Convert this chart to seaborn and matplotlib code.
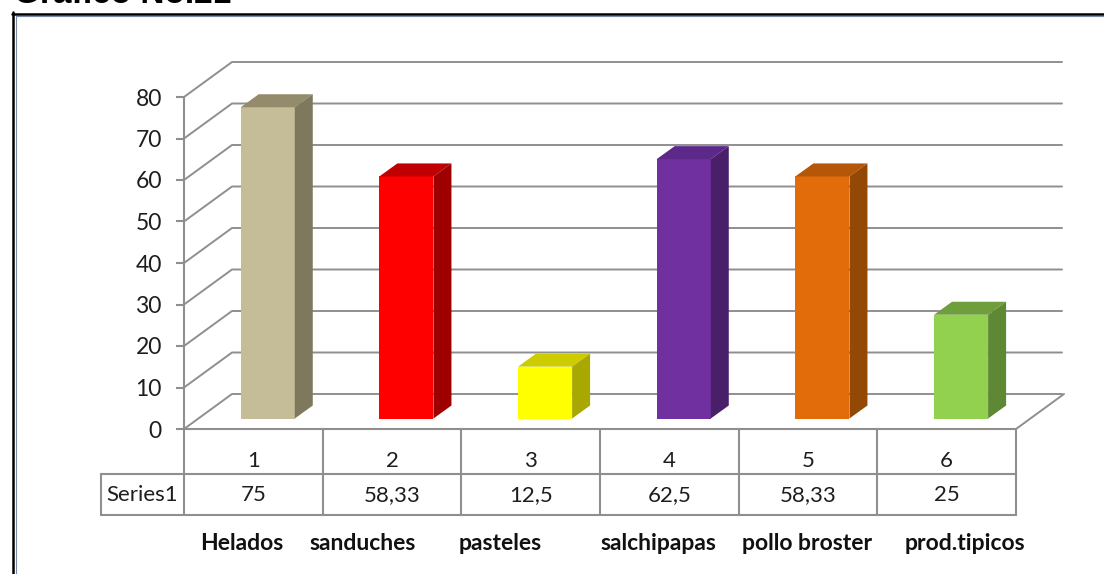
import matplotlib
matplotlib.use("Agg")
import matplotlib.pyplot as plt
import matplotlib.transforms as mtransforms
from matplotlib.patches import Polygon
from matplotlib.lines import Line2D
import seaborn as sns
import pandas as pd

# ---- data ----
title = "Gráfico No.21"
series_name = "Series1"
categories = ["Helados", "sanduches", "pasteles", "salchipapas", "pollo broster", "prod.tipicos"]
category_numbers = ["1", "2", "3", "4", "5", "6"]
values = [75, 58.33, 12.5, 62.5, 58.33, 25]
y_ticks = [0, 10, 20, 30, 40, 50, 60, 70, 80]

# ---- styling ----
front_colors = ["#C4BD97", "#FF0000", "#FFFF00", "#7030A0", "#E36C0A", "#92D050"]
top_colors = ["#948B6C", "#C00000", "#CCCC00", "#5C2889", "#B45708", "#6F9E3C"]
side_colors = ["#7E795C", "#9E0000", "#A8A800", "#4A1F6A", "#944806", "#5E8833"]
grid_color = "#8F8F8F"
text_color = "#1E1E1E"

W, H = 1104, 574
sns.set_style("white")
plt.rcParams["font.family"] = ["Lato", "DejaVu Sans"]

fig = plt.figure(figsize=(W / 100, H / 100), dpi=100)
ident = mtransforms.IdentityTransform()


def fx(px):
    return px / W


def fy(py):
    return 1 - py / H


# front plane of the 3-D box: y axis and floor front edge
ax = fig.add_axes([fx(184), fy(429), (1016 - 184) / W, (429 - 97) / H])
ax.patch.set_visible(False)

df = pd.DataFrame({"num": category_numbers, "val": values})
sns.barplot(data=df, x="num", y="val", hue="num", palette=front_colors,
            saturation=1, width=0.39, legend=False, ax=ax, zorder=3)

ax.set_xlim(-0.5, len(values) - 0.5)
ax.set_ylim(0, 80)
ax.set_yticks(y_ticks)
ax.set_xticks([])
ax.set_xlabel("")
ax.set_ylabel("")
for side in ["top", "right", "bottom"]:
    ax.spines[side].set_visible(False)
ax.spines["left"].set_color(grid_color)
ax.spines["left"].set_linewidth(1.5)
ax.tick_params(axis="y", direction="out", length=6, width=1.5, color=grid_color,
               pad=10, labelsize=16.5, labelcolor=text_color, left=True)

# box depth (display px) and bar placement inside it
depth = (48, 35)
bar_front = (0.3 * depth[0], 0.3 * depth[1])
bar_depth = (18, 13)

# gridlines: diagonal on the left side wall, then along the back wall
for v in y_ticks:
    x0, y0 = ax.transData.transform((-0.5, v))
    x_end, _ = ax.transData.transform((len(values) - 0.5, v))
    xs = [x0, x0 + depth[0], x_end + depth[0] - 2]
    ys = [y0, y0 + depth[1], y0 + depth[1]]
    ax.add_artist(Line2D(xs, ys, transform=ident, color=grid_color, lw=1.4,
                         zorder=1, clip_on=False))

# right edge of the floor
xr, yr = ax.transData.transform((len(values) - 0.5, 0))
ax.add_artist(Line2D([xr, xr + depth[0]], [yr, yr + depth[1]], transform=ident,
                     color=grid_color, lw=1.4, zorder=1, clip_on=False))

# 3-D bars: shift front faces into the box, add top and side faces
shift = ax.transData + mtransforms.Affine2D().translate(*bar_front)
for i, p in enumerate(ax.patches):
    x0, w, h = p.get_x(), p.get_width(), p.get_height()
    p.set_transform(shift)
    p.set_edgecolor("none")
    p.set_clip_on(False)
    (X0, Yb), = shift.transform([(x0, 0)])
    (X1, Yt), = shift.transform([(x0 + w, h)])
    dx, dy = bar_depth
    top = Polygon([(X0, Yt), (X1, Yt), (X1 + dx, Yt + dy), (X0 + dx, Yt + dy)],
                  closed=True, transform=ident, facecolor=top_colors[i],
                  edgecolor="none", zorder=3, clip_on=False)
    side = Polygon([(X1, Yb), (X1, Yt), (X1 + dx, Yt + dy), (X1 + dx, Yb + dy)],
                   closed=True, transform=ident, facecolor=side_colors[i],
                   edgecolor="none", zorder=3, clip_on=False)
    ax.add_artist(top)
    ax.add_artist(side)

# ---- data table below the floor ----
row_top, row_mid, row_bot = 429, 474, 515
left_cell = 101
col_edges = [ax.transData.transform((k - 0.5, 0))[0] for k in range(len(values) + 1)]


def hline(y, xa, xb):
    ax.add_artist(Line2D([xa, xb], [H - y, H - y], transform=ident,
                         color=grid_color, lw=1.5, zorder=2, clip_on=False))


def vline(x, ya, yb):
    ax.add_artist(Line2D([x, x], [H - ya, H - yb], transform=ident,
                         color=grid_color, lw=1.5, zorder=2, clip_on=False))


hline(row_top, col_edges[0], col_edges[-1])
hline(row_mid, left_cell, col_edges[-1])
hline(row_bot, left_cell, col_edges[-1])
for xe in col_edges:
    vline(xe, row_top, row_bot)
vline(left_cell, row_mid, row_bot)

num_tf = mtransforms.blended_transform_factory(ax.transData, fig.transFigure)
for k, (num, val) in enumerate(zip(category_numbers, values)):
    label = f"{val:g}".replace(".", ",")
    fig.text(k, fy(461), num, transform=num_tf, ha="center", va="center",
             fontsize=16, color=text_color)
    fig.text(k, fy(495), label, transform=num_tf, ha="center", va="center",
             fontsize=16, color=text_color)
fig.text(fx((left_cell + col_edges[0]) / 2), fy(495), series_name, ha="center",
         va="center", fontsize=16, color=text_color)

# category names in a line under the table
name_centers = [242, 363, 500, 658, 807, 965]
for name, cx in zip(categories, name_centers):
    fig.text(fx(cx), fy(543), name, ha="center", va="center", fontsize=16.5,
             fontweight="bold", color="#111111")

# ---- outer frame and caption ----
fig.add_artist(Line2D([fx(13.3), fx(13.3)], [fy(12), 0], color="black", lw=1.8))
fig.add_artist(Line2D([fx(12), 1], [fy(13.8), fy(13.8)], color="black", lw=1.8))
fig.add_artist(Line2D([fx(15.6), fx(15.6)], [fy(15.6), 0], color="#7C8CA8", lw=0.8))
fig.add_artist(Line2D([fx(15.6), 1], [fy(15.6), fy(15.6)], color="#7C8CA8", lw=0.8))
fig.text(fx(14), fy(3), title, ha="left", va="baseline", fontsize=24,
         fontweight="bold", family=["Liberation Sans", "DejaVu Sans"], color="black")

fig.savefig("out.png", dpi=100)
